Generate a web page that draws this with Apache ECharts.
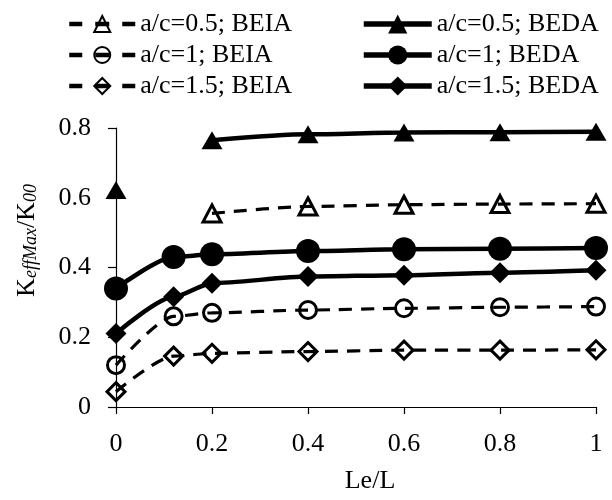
<!DOCTYPE html>
<html>
<head>
<meta charset="utf-8">
<script src="https://cdn.jsdelivr.net/npm/echarts@6/dist/echarts.min.js"></script>
<style>
html,body{margin:0;padding:0;background:#fff;}
#chart{width:612px;height:500px;}
</style>
</head>
<body>
<div id="chart"></div>
<script>
// ---- data ----
var xValues = [0, 0.12, 0.2, 0.4, 0.6, 0.8, 1];
var beia05 = [null, null, 0.555, 0.575, 0.580, 0.582, 0.583];
var beda05 = [0.622, null, 0.765, 0.782, 0.787, 0.788, 0.789];
var beia1  = [0.120, 0.260, 0.270, 0.278, 0.283, 0.286, 0.288];
var beda1  = [0.340, 0.430, 0.438, 0.447, 0.452, 0.454, 0.456];
var beia15 = [0.044, 0.146, 0.154, 0.159, 0.163, 0.163, 0.164];
var beda15 = [0.211, 0.316, 0.355, 0.374, 0.378, 0.385, 0.392];
var yTicks = [0, 0.2, 0.4, 0.6, 0.8];
var xTicks = [0, 0.2, 0.4, 0.6, 0.8, 1];
var names = {
  beia05: 'a/c=0.5; BEIA', beia1: 'a/c=1; BEIA', beia15: 'a/c=1.5; BEIA',
  beda05: 'a/c=0.5; BEDA', beda1: 'a/c=1; BEDA', beda15: 'a/c=1.5; BEDA'
};

var FONT = "'Liberation Serif','Times New Roman',serif";

function pairs(ys) {
  return xValues.map(function (x, i) { return [x, ys[i] === null ? '-' : ys[i]]; });
}

function openSeries(name, ys, symbol, size) {
  return {
    name: name, type: 'line', data: pairs(ys),
    symbol: symbol, symbolSize: size,
    smooth: 0.25, smoothMonotone: 'x',
    lineStyle: { color: '#000', width: 3.2, type: [13, 9] },
    itemStyle: { color: 'rgba(0,0,0,0)', borderColor: '#000', borderWidth: 3 },
    emphasis: { disabled: true }
  };
}
function filledSeries(name, ys, symbol, size) {
  return {
    name: name, type: 'line', data: pairs(ys),
    symbol: symbol, symbolSize: size,
    smooth: 0.25, smoothMonotone: 'x',
    lineStyle: { color: '#000', width: 4.5, type: 'solid' },
    itemStyle: { color: '#000', borderWidth: 0 },
    emphasis: { disabled: true }
  };
}

var dashLegend = { type: [13, 13, 14, 13, 13], width: 4.5, color: '#000' };
var solidLegend = { type: 'solid', width: 5.5, color: '#000' };

var chart = echarts.init(document.getElementById('chart'), null, { renderer: 'canvas' });
chart.setOption({
  animation: false,
  backgroundColor: '#fff',
  textStyle: { fontFamily: FONT, color: '#000' },
  grid: { left: 116, right: 16, top: 128, bottom: 93, containLabel: false },
  legend: [
    {
      orient: 'vertical', left: 62, top: 6,
      itemWidth: 66, itemHeight: 20, itemGap: 5,
      textStyle: { fontFamily: FONT, fontSize: 26, color: '#000' },
      data: [
        { name: names.beia05, lineStyle: dashLegend },
        { name: names.beia1, lineStyle: dashLegend },
        { name: names.beia15, lineStyle: dashLegend }
      ]
    },
    {
      orient: 'vertical', left: 356, top: 6,
      itemWidth: 68, itemHeight: 24, itemGap: 5,
      textStyle: { fontFamily: FONT, fontSize: 26, color: '#000' },
      data: [
        { name: names.beda05, lineStyle: solidLegend },
        { name: names.beda1, lineStyle: solidLegend },
        { name: names.beda15, lineStyle: solidLegend }
      ]
    }
  ],
  xAxis: {
    type: 'value', min: 0, max: 1, interval: 0.2,
    name: 'Le/L', nameLocation: 'middle', nameGap: 61,
    nameTextStyle: { fontFamily: FONT, fontSize: 26, color: '#000', padding: [0, 0, 0, 28] },
    axisLine: { show: true, lineStyle: { color: '#000', width: 1.2 } },
    axisTick: { show: true, inside: false, length: 7, lineStyle: { color: '#000', width: 1.2 } },
    axisLabel: {
      margin: 24, fontFamily: FONT, fontSize: 26, color: '#000',
      formatter: function (v) { return xTicks.indexOf(v) >= 0 ? String(v) : ''; }
    },
    splitLine: { show: false }
  },
  yAxis: {
    type: 'value', min: 0, max: 0.8, interval: 0.2,
    name: '{m|K}{s|effMax}{m|/K}{s|00}', nameLocation: 'middle', nameGap: 76, nameRotate: 90,
    nameTextStyle: {
      fontFamily: FONT, fontSize: 26, color: '#000', padding: [0, 0, 0, 54],
      rich: {
        m: { fontFamily: FONT, fontSize: 26, lineHeight: 26, color: '#000' },
        s: { fontFamily: FONT, fontSize: 18, fontStyle: 'italic', lineHeight: 14, verticalAlign: 'bottom', color: '#000' }
      }
    },
    axisLine: { show: true, lineStyle: { color: '#000', width: 1.2 } },
    axisTick: { show: true, inside: false, length: 8, lineStyle: { color: '#000', width: 1.2 } },
    axisLabel: {
      margin: 25, fontFamily: FONT, fontSize: 26, color: '#000',
      formatter: function (v) {
        for (var i = 0; i < yTicks.length; i++) {
          if (Math.abs(yTicks[i] - v) < 1e-9) return String(yTicks[i]);
        }
        return '';
      }
    },
    splitLine: { show: false }
  },
  series: [
    openSeries(names.beia05, beia05, 'triangle', [18, 17]),
    openSeries(names.beia1, beia1, 'circle', 17),
    openSeries(names.beia15, beia15, 'diamond', [18, 18]),
    filledSeries(names.beda05, beda05, 'triangle', [21, 18]),
    filledSeries(names.beda1, beda1, 'circle', 24),
    filledSeries(names.beda15, beda15, 'diamond', [21, 21])
  ]
});
</script>
</body>
</html>
